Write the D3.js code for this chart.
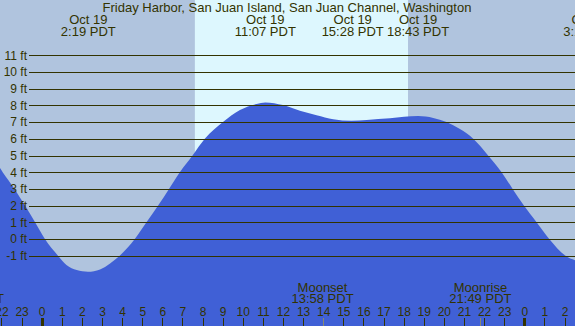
<!DOCTYPE html>
<html>
<head>
<meta charset="utf-8">
<script src="https://cdn.jsdelivr.net/npm/d3@7"></script>
<style>
  body { margin: 0; }
  text { font-family: "Liberation Sans", Arial, sans-serif; fill: #333300; }
  .grid line, .hours line { stroke: #333300; }
</style>
</head>
<body>
<div id="GraphHolder"></div>
<script>
// tide curve: hours since Oct 19 00:00 PDT, height in ft
var tideHours = [-2.1, -1.94, -1.35, -0.83, -0.33, 0.16, 0.81, 1.23, 1.74, 2.3, 2.9, 3.4, 3.88,
                 4.63, 5.21, 5.79, 6.33, 6.87, 7.5, 8.11, 9.03, 9.86, 10.69, 11.12, 12.0, 12.84,
                 13.67, 14.5, 15.4, 16.16, 17.32, 18.72, 19.47, 20.13, 20.8, 21.46, 22.2, 22.87,
                 23.42, 23.98, 24.61, 25.24, 26.05, 26.6];
var tideFeet  = [4.3, 4.0, 3.0, 2.0, 1.0, 0.0, -1.0, -1.56, -1.86, -1.96, -1.82, -1.46, -1.0,
                 0.0, 1.0, 2.0, 3.0, 4.0, 5.0, 6.0, 7.02, 7.72, 8.08, 8.18, 8.02, 7.68,
                 7.41, 7.17, 7.08, 7.13, 7.23, 7.36, 7.25, 7.0, 6.58, 6.0, 5.0, 4.0,
                 3.0, 2.0, 1.0, 0.0, -1.0, -1.3];

// high / low tide labels along the top
var eventDays  = ["Oct 19", "Oct 19", "Oct 19", "Oct 19", "Oct 20"];
var eventTimes = ["2:19 PDT", "11:07 PDT", "15:28 PDT", "18:43 PDT", "3:18 PDT"];

// moon labels along the bottom
var moonNames = ["Moonrise", "Moonset", "Moonrise"];
var moonDays  = ["Oct 18", "Oct 19", "Oct 19"];
var moonTimes = ["20:35 PDT", "13:58 PDT", "21:49 PDT"];

var sunrise = "7:37", sunset = "18:13";

var feetTicks = [-1, 0, 1, 2, 3, 4, 5, 6, 7, 8, 9, 10, 11];
var hourTicks = [-2, -1, 0, 1, 2, 3, 4, 5, 6, 7, 8, 9, 10, 11, 12, 13, 14, 15, 16, 17, 18, 19,
                 20, 21, 22, 23, 24, 25, 26];

var title = "Friday Harbor, San Juan Island, San Juan Channel, Washington";

var width = 575, height = 326;
var dayOffset = {"Oct 18": -24, "Oct 19": 0, "Oct 20": 24};

function toHour(day, t) {
    var hm = t.split(" ")[0].split(":");
    return dayOffset[day] + (+hm[0]) + (+hm[1]) / 60;
}

var x = d3.scaleLinear().domain([0, 24]).range([41.7, 524.3]);
var y = d3.scaleLinear().domain([0, 11]).range([239, 55.3]);

var svg = d3.select("#GraphHolder").append("svg")
    .attr("width", width)
    .attr("height", height)
    .style("display", "block");

// night / day background
svg.append("rect")
    .attr("width", width).attr("height", height)
    .attr("fill", "#b0c4de");
svg.append("rect")
    .attr("x", x(toHour("Oct 19", sunrise)))
    .attr("width", x(toHour("Oct 19", sunset)) - x(toHour("Oct 19", sunrise)))
    .attr("height", height)
    .attr("fill", "#ddf7fe");

// tide area
var tide = tideHours.map(function(h, i) { return [h, tideFeet[i]]; });
var area = d3.area()
    .x(function(d) { return x(d[0]); })
    .y0(height)
    .y1(function(d) { return y(d[1]); })
    .curve(d3.curveMonotoneX);
svg.append("path")
    .datum(tide)
    .attr("d", area)
    .attr("fill", "#4060d6");

// horizontal grid with ft labels
var grid = svg.append("g")
    .attr("class", "grid")
    .attr("transform", "translate(" + width + ",0)")
    .call(d3.axisLeft(y)
        .tickValues(feetTicks)
        .tickSize(width - 29)
        .tickPadding(2)
        .tickFormat(function(d) { return d + " ft"; }));
grid.select(".domain").remove();
grid.selectAll("line").attr("shape-rendering", "crispEdges");
grid.selectAll("text")
    .style("font-size", "12px")
    .style("font-family", "Liberation Sans, Arial, sans-serif")
    .attr("fill", "#333300");

// hour axis along the bottom
var hours = svg.append("g")
    .attr("class", "hours")
    .attr("transform", "translate(0," + height + ")")
    .call(d3.axisTop(x)
        .tickValues(hourTicks)
        .tickSize(8)
        .tickPadding(2)
        .tickFormat(function(d) { return (d + 24) % 24; }));
hours.select(".domain").remove();
hours.selectAll("line")
    .attr("shape-rendering", "crispEdges")
    .attr("stroke-width", function(d) { return d % 24 === 0 ? 3 : 1; });
hours.selectAll("text")
    .style("font-size", "12px")
    .style("font-family", "Liberation Sans, Arial, sans-serif")
    .attr("fill", "#333300");

// moon ticks + labels
moonNames.forEach(function(name, i) {
    var mx = x(toHour(moonDays[i], moonTimes[i]));
    svg.append("line")
        .attr("x1", Math.round(mx) + 0.5).attr("x2", Math.round(mx) + 0.5)
        .attr("y1", height - 8).attr("y2", height)
        .attr("stroke", "#8a8a70");
    svg.append("text")
        .attr("x", mx).attr("y", 292)
        .attr("text-anchor", "middle")
        .style("font-size", "13px")
        .text(name);
    svg.append("text")
        .attr("x", mx).attr("y", 303)
        .attr("text-anchor", "middle")
        .style("font-size", "13px")
        .text(moonTimes[i]);
});

// tide event labels
eventTimes.forEach(function(t, i) {
    var ex = x(toHour(eventDays[i], t));
    svg.append("text")
        .attr("x", ex).attr("y", 24)
        .attr("text-anchor", "middle")
        .style("font-size", "13px")
        .text(eventDays[i]);
    svg.append("text")
        .attr("x", ex).attr("y", 36)
        .attr("text-anchor", "middle")
        .style("font-size", "13px")
        .text(t);
});

// title
svg.append("text")
    .attr("x", 287).attr("y", 12)
    .attr("text-anchor", "middle")
    .style("font-size", "13px")
    .text(title);
</script>
</body>
</html>
